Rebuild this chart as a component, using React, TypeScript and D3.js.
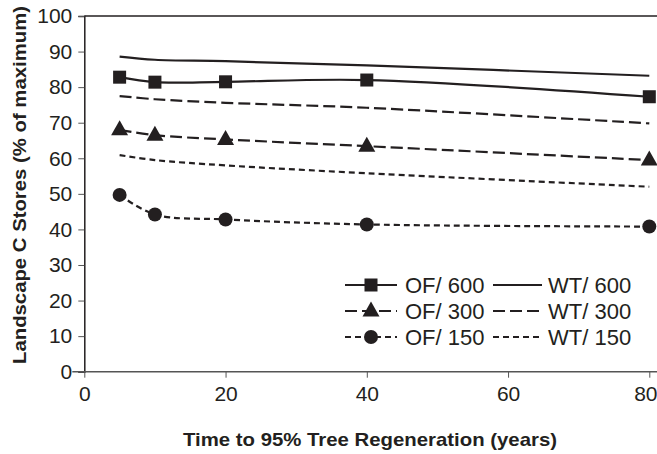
import React, { useRef, useEffect } from 'react';
import * as d3 from 'd3';

// years to 95% tree regeneration
const years = [5, 10, 20, 40, 80];

// landscape C stores, % of maximum
const of600 = [82.8, 81.4, 81.5, 82.0, 77.3];
const of300 = [68.0, 66.5, 65.3, 63.4, 59.5];
const of150 = [49.7, 44.2, 42.8, 41.4, 40.8];
const wt600 = [88.6, 87.7, 87.3, 86.1, 83.2];
const wt300 = [77.5, 76.6, 75.6, 74.2, 69.8];
const wt150 = [60.9, 59.5, 58.0, 55.8, 52.0];

const yTicks = [0, 10, 20, 30, 40, 50, 60, 70, 80, 90, 100];
const xTicks = [0, 20, 40, 60, 80];

const INK = '#231f20';
const FONT = 'Liberation Sans, Arial, sans-serif';

type Series = { name: string; values: number[]; dash: string; marker: string | null };

const ofSeries: Series[] = [
  { name: 'OF/ 600', values: of600, dash: '', marker: 'square' },
  { name: 'OF/ 300', values: of300, dash: '12,5', marker: 'triangle' },
  { name: 'OF/ 150', values: of150, dash: '6,4', marker: 'circle' },
];
const wtSeries: Series[] = [
  { name: 'WT/ 600', values: wt600, dash: '', marker: null },
  { name: 'WT/ 300', values: wt300, dash: '12,5', marker: null },
  { name: 'WT/ 150', values: wt150, dash: '6,4', marker: null },
];

const width = 657;
const height = 454;

const App = () => {
  const svgRef = useRef<SVGSVGElement>(null);

  useEffect(() => {
    if (!svgRef.current) return;
    d3.select(svgRef.current).selectAll('*').remove();

    const svg = d3.select(svgRef.current);
    const left = 84.3;
    const x = d3.scaleLinear().domain([0, 80]).range([left, 649.3]);
    const y = d3.scaleLinear().domain([0, 100]).range([371.7, 16]);

    // top frame line
    svg.append('line')
      .attr('x1', left).attr('x2', width)
      .attr('y1', y(100)).attr('y2', y(100))
      .attr('stroke', INK).attr('stroke-width', 1.5);

    // y axis
    const yAxis = svg.append('g')
      .attr('transform', `translate(${left},0)`)
      .call(d3.axisLeft(y).tickValues(yTicks).tickSize(6).tickPadding(6));
    yAxis.select('.domain').attr('stroke', INK).attr('stroke-width', 1.5);
    yAxis.selectAll('.tick line').attr('stroke', '#555').attr('stroke-width', 1);
    yAxis.selectAll('.tick text')
      .attr('font-family', FONT).attr('font-size', 21).attr('fill', INK);

    // x axis
    const xAxis = svg.append('g')
      .attr('transform', `translate(0,${y(0)})`)
      .call(d3.axisBottom(x).tickValues(xTicks).tickSize(6).tickPadding(8).tickSizeOuter(0));
    xAxis.select('.domain').remove();
    xAxis.append('line')
      .attr('x1', left - 12).attr('x2', width)
      .attr('stroke', '#555').attr('stroke-width', 1.5);
    xAxis.selectAll('.tick line').attr('stroke', '#555').attr('stroke-width', 1);
    xAxis.selectAll('.tick text')
      .attr('font-family', FONT).attr('font-size', 21).attr('fill', INK)
      .attr('x', (d: any) => (d === 80 ? -4 : 0));

    // axis titles
    svg.append('text')
      .attr('x', 370).attr('y', 446)
      .attr('text-anchor', 'middle')
      .attr('font-family', FONT).attr('font-size', 19).attr('font-weight', 'bold')
      .attr('fill', INK)
      .attr('textLength', 374).attr('lengthAdjust', 'spacingAndGlyphs')
      .text('Time to 95% Tree Regeneration (years)');
    svg.append('text')
      .attr('transform', `translate(26,185) rotate(-90)`)
      .attr('text-anchor', 'middle')
      .attr('font-family', FONT).attr('font-size', 19).attr('font-weight', 'bold')
      .attr('fill', INK)
      .attr('textLength', 358).attr('lengthAdjust', 'spacingAndGlyphs')
      .text('Landscape C Stores (% of maximum)');

    const line = d3.line<number>()
      .x((d, i) => x(years[i]))
      .y(d => y(d))
      .curve(d3.curveCatmullRom.alpha(0.5));

    const drawMarker = (g: any, kind: string, cx: number, cy: number) => {
      if (kind === 'square') {
        g.append('rect')
          .attr('x', cx - 6.5).attr('y', cy - 6.5)
          .attr('width', 13).attr('height', 13)
          .attr('fill', INK);
      } else if (kind === 'triangle') {
        g.append('path')
          .attr('d', `M${cx},${cy - 9.5}L${cx + 8.5},${cy + 5.5}L${cx - 8.5},${cy + 5.5}Z`)
          .attr('fill', INK);
      } else if (kind === 'circle') {
        g.append('circle')
          .attr('cx', cx).attr('cy', cy).attr('r', 7)
          .attr('fill', INK);
      }
    };

    const plot = svg.append('g');
    [...wtSeries, ...ofSeries].forEach(s => {
      plot.append('path')
        .attr('d', line(s.values))
        .attr('fill', 'none')
        .attr('stroke', INK)
        .attr('stroke-width', 2.2)
        .attr('stroke-dasharray', s.dash || null);
      if (s.marker) {
        s.values.forEach((v, i) => drawMarker(plot, s.marker as string, x(years[i]), y(v)));
      }
    });

    // legend
    const legend = svg.append('g');
    const rowY = [285, 311, 337];
    ofSeries.forEach((s, i) => {
      const ly = rowY[i];
      legend.append('line')
        .attr('x1', 345).attr('x2', 397).attr('y1', ly).attr('y2', ly)
        .attr('stroke', INK).attr('stroke-width', 2.2)
        .attr('stroke-dasharray', s.dash || null);
      drawMarker(legend, s.marker as string, 371, ly);
      legend.append('text')
        .attr('x', 405).attr('y', ly).attr('dy', '0.35em')
        .attr('font-family', FONT).attr('font-size', 22).attr('fill', INK)
        .text(s.name);
    });
    wtSeries.forEach((s, i) => {
      const ly = rowY[i];
      legend.append('line')
        .attr('x1', 493).attr('x2', 542).attr('y1', ly).attr('y2', ly)
        .attr('stroke', INK).attr('stroke-width', 2.2)
        .attr('stroke-dasharray', s.dash || null);
      legend.append('text')
        .attr('x', 548).attr('y', ly).attr('dy', '0.35em')
        .attr('font-family', FONT).attr('font-size', 22).attr('fill', INK)
        .text(s.name);
    });
  }, []);

  return (
    <svg
      ref={svgRef}
      width={width}
      height={height}
      style={{ position: 'absolute', left: 0, top: 0, background: '#fff' }}
    />
  );
};

export default App;
